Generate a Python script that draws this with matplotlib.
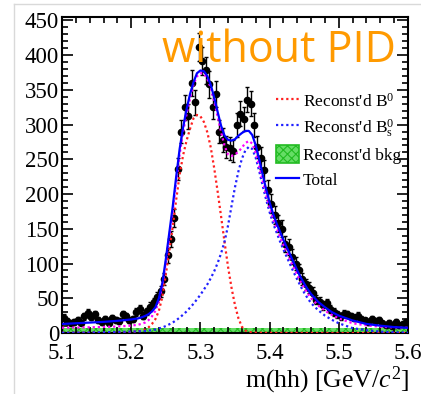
import numpy as np
import matplotlib
matplotlib.use("Agg")
import matplotlib.pyplot as plt
from matplotlib.lines import Line2D
from matplotlib.patches import Patch
from matplotlib.ticker import MultipleLocator

plt.rcParams['font.family'] = ['Liberation Serif', 'DejaVu Serif']
plt.rcParams['mathtext.fontset'] = 'custom'
plt.rcParams['mathtext.rm'] = 'Liberation Serif'
plt.rcParams['mathtext.it'] = 'Liberation Serif:italic'
plt.rcParams['hatch.linewidth'] = 0.8

# data points, 100 bins of 5 MeV
bin_centers = [5.1025 + 0.005 * i for i in range(100)]
counts = [22, 17, 14, 16, 19, 15, 24, 29, 23, 27,
          19, 16, 20, 15, 21, 19, 17, 27, 24, 18,
          20, 30, 34, 25, 31, 38, 44, 52, 60, 78,
          112, 135, 165, 236, 290, 325, 312, 360, 332, 412,
          392, 378, 358, 326, 344, 290, 278, 268, 266, 262,
          300, 316, 308, 336, 330, 300, 268, 252, 234, 206,
          186, 170, 158, 150, 128, 124, 110, 100, 90, 78,
          70, 65, 58, 48, 45, 40, 43, 35, 30, 27,
          24, 28, 27, 24, 22, 25, 20, 18, 16, 20,
          17, 19, 14, 12, 15, 10, 16, 11, 13, 16]

# fit curves
curve_x = [5.10, 5.12, 5.14, 5.16, 5.18, 5.20, 5.21,
           5.215, 5.22, 5.225, 5.23, 5.235, 5.24, 5.245, 5.25, 5.255, 5.26,
           5.265, 5.27, 5.275, 5.28, 5.285, 5.29, 5.295, 5.30, 5.305, 5.31,
           5.315, 5.32, 5.325, 5.33, 5.335, 5.34, 5.345, 5.35, 5.355, 5.36,
           5.365, 5.37, 5.375, 5.38, 5.385, 5.39, 5.395, 5.40, 5.405, 5.41,
           5.415, 5.42, 5.425, 5.43, 5.435, 5.44, 5.445, 5.45, 5.455, 5.46,
           5.47, 5.48, 5.49, 5.50, 5.52, 5.54, 5.56, 5.58, 5.60]
total = [13, 14, 15, 16, 17.5, 19.5, 21,
         22.5, 24.5, 27, 31, 37, 50, 72, 106, 144, 182,
         225, 265, 296, 322, 344, 361, 374, 378, 377, 370,
         357, 339, 318, 298, 284, 278, 277, 279, 284, 288,
         291, 291, 285, 270, 250, 228, 207, 188, 172, 158,
         146, 134, 123, 112, 101, 90, 80, 71, 63, 56,
         45, 37, 30, 25, 18, 13, 10.5, 8.5, 7.5]
b0 = [0.3, 0.4, 0.5, 0.7, 1.0, 1.6, 2.5,
      3.5, 5, 8, 13, 20, 32, 52, 84, 118, 153,
      192, 228, 256, 277, 294, 309, 314, 312, 304, 289,
      267, 237, 203, 167, 130, 95, 65, 40, 21, 9,
      3.5, 1.5, 0.8, 0.5, 0.4, 0.3, 0.3, 0.2, 0.2, 0.2,
      0.1, 0.1, 0.1, 0.1, 0.1, 0.1, 0.1, 0.1, 0.1, 0.1,
      0, 0, 0, 0, 0, 0, 0, 0, 0]
bs = [0.3, 0.5, 0.7, 1.0, 1.4, 2.0, 2.4,
      2.7, 3, 3.5, 4, 5, 6.5, 8, 10, 12.5, 15,
      18.5, 22, 26.5, 31, 36.5, 42, 48.5, 55, 62.5, 70,
      79, 89, 101, 115, 132, 155, 183, 210, 233, 251,
      263, 268, 265, 252, 233, 212, 192, 174, 158, 145,
      132, 120, 109, 98, 87, 77, 67, 58, 50, 43,
      33, 25, 19, 14, 7, 4, 2, 1, 0.5]
bkg_level = 7

fig = plt.figure(figsize=(4.21, 3.94), dpi=100)
ax = fig.add_axes([62 / 421, 1 - 333 / 394, 346 / 421, 316 / 394])

# screenshot border
fig.add_artist(Line2D([14 / 421, 14 / 421], [0, 1 - 4 / 394], color='#d9d9d9', lw=1))
fig.add_artist(Line2D([14 / 421, 1], [1 - 4 / 394, 1 - 4 / 394], color='#d9d9d9', lw=1))

cx = np.array(curve_x)
bkg = np.full(len(cx), bkg_level)
signal_sum = np.array(b0) + np.array(bs) + bkg

ax.fill_between(cx, 0, bkg, facecolor='#66dd66', edgecolor='#22bb22',
                hatch='xxxx', lw=0, zorder=1)

ax.errorbar(bin_centers, counts, yerr=np.sqrt(counts), fmt='o', color='black',
            ms=4.5, elinewidth=1, capsize=1.5, zorder=2)

ax.plot(cx, b0, color='#ff2020', ls=(0, (1, 1.3)), lw=1.6, zorder=3)
ax.plot(cx, bs, color='#2020ff', ls=(0, (1, 1.3)), lw=1.6, zorder=3)
ax.plot(cx, signal_sum, color='#ff00ff', ls=(0, (1, 1.3)), lw=1.6, zorder=3)
ax.plot(cx, total, color='#0000ff', lw=1.6, zorder=4)

ax.set_xlim(5.1, 5.6)
ax.set_ylim(0, 455)
ax.xaxis.set_major_locator(MultipleLocator(0.1))
ax.xaxis.set_minor_locator(MultipleLocator(0.02))
ax.yaxis.set_major_locator(MultipleLocator(50))
ax.yaxis.set_minor_locator(MultipleLocator(10))
ax.tick_params(which='both', direction='in', top=True, right=True, width=1.2)
ax.tick_params(which='major', length=8, labelsize=16.5)
ax.tick_params(axis='y', which='major', pad=2)
ax.tick_params(axis='x', which='major', pad=7.5)
ax.tick_params(which='minor', length=4)
for s in ax.spines.values():
    s.set_linewidth(1.5)

fig.text(162 / 421, 1 - 62 / 394, 'without PID', color='#ff9a00',
         family='Open Sans', fontsize=31, ha='left', va='baseline')

fig.text(409 / 421, 1 - 387 / 394, r'm(hh) [GeV/$c^{2}$]', fontsize=18.5,
         ha='right', va='baseline')

handles = [Line2D([], [], color='#ff2020', ls=(0, (1, 1.3)), lw=1.6),
           Line2D([], [], color='#2020ff', ls=(0, (1, 1.3)), lw=1.6),
           Patch(facecolor='#66dd66', edgecolor='#22bb22', hatch='xxxx', lw=1.2),
           Line2D([], [], color='#0000ff', lw=1.6)]
labels = [r"Reconst'd B$^{0}$", r"Reconst'd B$_{\mathrm{s}}^{0}$",
          "Reconst'd bkg", "Total"]
ax.legend(handles, labels, loc='upper left', bbox_to_anchor=(276 / 421, 1 - 92 / 394),
          bbox_transform=fig.transFigure, frameon=False, fontsize=12.5,
          handlelength=1.3, handleheight=1.2, handletextpad=0.25,
          labelspacing=0.36, borderpad=0, borderaxespad=0)

fig.savefig('out.png', dpi=100)
